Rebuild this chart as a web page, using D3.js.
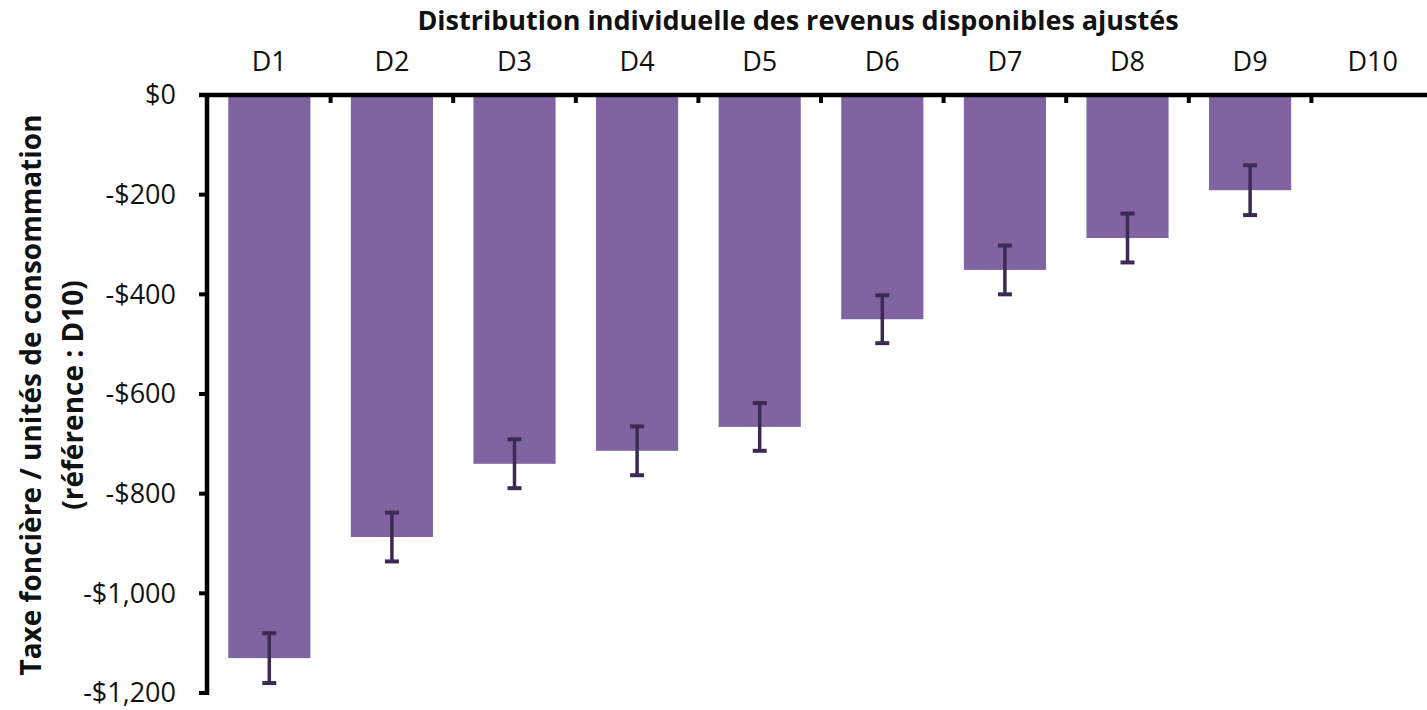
<!DOCTYPE html>
<html>
<head>
<meta charset="utf-8">
<script src="https://cdn.jsdelivr.net/npm/d3@7"></script>
<style>
  body { margin: 0; background: #fff; }
  svg { display: block; font-family: "Open Sans", sans-serif; }
</style>
</head>
<body>
<svg id="chart" width="1427" height="710"></svg>
<script>
const width = 1427;
const height = 710;

// data
const deciles = ["D1", "D2", "D3", "D4", "D5", "D6", "D7", "D8", "D9", "D10"];
const values = [-1130, -887, -740, -714, -666, -450, -351, -287, -191, 0];
const errors = [50, 49, 49, 49, 48, 48, 49, 49, 50, 0];
const yTicks = [0, -200, -400, -600, -800, -1000, -1200];

const titleText = "Distribution individuelle des revenus disponibles ajustés";
const yLabel1 = "Taxe foncière / unités de consommation";
const yLabel2 = "(référence : D10)";

const svg = d3.select("#chart");

const x = d3.scaleBand().domain(deciles).range([208, 1434]).paddingInner(0.33).paddingOuter(0.165);
const xEdge = d3.scaleBand().domain(deciles).range([208, 1434]);
const y = d3.scaleLinear().domain([0, -1200]).range([95, 693]);

const fmt = d => (d < 0 ? "-$" : "$") + d3.format(",")(Math.abs(d));

// bars
svg.selectAll("rect.bar").data(values).enter()
    .append("rect")
    .attr("class", "bar")
    .attr("x", (d, i) => x(deciles[i]))
    .attr("width", x.bandwidth())
    .attr("y", y(0))
    .attr("height", d => y(d) - y(0))
    .attr("fill", "#8064a2");

// error bars
const errColor = "#3b2a52";
const err = svg.selectAll("g.err").data(values).enter()
    .filter((d, i) => errors[i] > 0)
    .append("g")
    .attr("class", "err")
    .attr("transform", (d, i) => "translate(" + (x(deciles[i]) + x.bandwidth() / 2) + ",0)");
err.append("line")
    .attr("y1", (d, i) => y(d + errors[i]))
    .attr("y2", (d, i) => y(d - errors[i]))
    .attr("stroke", errColor).attr("stroke-width", 3.5);
err.append("line")
    .attr("x1", -7).attr("x2", 7)
    .attr("y1", (d, i) => y(d + errors[i])).attr("y2", (d, i) => y(d + errors[i]))
    .attr("stroke", errColor).attr("stroke-width", 4);
err.append("line")
    .attr("x1", -7).attr("x2", 7)
    .attr("y1", (d, i) => y(d - errors[i])).attr("y2", (d, i) => y(d - errors[i]))
    .attr("stroke", errColor).attr("stroke-width", 4);

// y axis
svg.append("line")
    .attr("x1", 207).attr("x2", 207)
    .attr("y1", y(0) - 2).attr("y2", y(-1200) + 2)
    .attr("stroke", "#000").attr("stroke-width", 4.5);
svg.selectAll("line.ytick").data(yTicks).enter()
    .append("line")
    .attr("x1", 199).attr("x2", 207)
    .attr("y1", d => y(d)).attr("y2", d => y(d))
    .attr("stroke", "#000").attr("stroke-width", 4);
svg.selectAll("text.ylab").data(yTicks).enter()
    .append("text")
    .attr("x", 176)
    .attr("y", d => y(d))
    .attr("dy", "0.35em")
    .attr("text-anchor", "end")
    .attr("font-size", 27)
    .attr("fill", "#111")
    .text(fmt);

// x axis along the top (zero line)
svg.append("line")
    .attr("x1", 199).attr("x2", width)
    .attr("y1", y(0)).attr("y2", y(0))
    .attr("stroke", "#000").attr("stroke-width", 4.5);
svg.selectAll("line.xtick").data(deciles.slice(1)).enter()
    .append("line")
    .attr("x1", d => xEdge(d)).attr("x2", d => xEdge(d))
    .attr("y1", y(0)).attr("y2", y(0) + 8)
    .attr("stroke", "#000").attr("stroke-width", 4);
svg.selectAll("text.xlab").data(deciles).enter()
    .append("text")
    .attr("x", d => xEdge(d) + xEdge.bandwidth() / 2)
    .attr("y", 71)
    .attr("text-anchor", "middle")
    .attr("font-size", 27)
    .attr("fill", "#111")
    .text(d => d);

// title
svg.append("text")
    .attr("x", 798)
    .attr("y", 30)
    .attr("text-anchor", "middle")
    .attr("font-size", 27)
    .attr("font-weight", "bold")
    .attr("fill", "#111")
    .text(titleText);

// y axis title
const yt = svg.append("g").attr("transform", "translate(0,395) rotate(-90)");
yt.append("text")
    .attr("x", 0).attr("y", 41)
    .attr("text-anchor", "middle")
    .attr("font-size", 28)
    .attr("font-weight", "bold")
    .attr("fill", "#111")
    .text(yLabel1);
yt.append("text")
    .attr("x", 0).attr("y", 83)
    .attr("text-anchor", "middle")
    .attr("font-size", 28)
    .attr("font-weight", "bold")
    .attr("fill", "#111")
    .text(yLabel2);
</script>
</body>
</html>
